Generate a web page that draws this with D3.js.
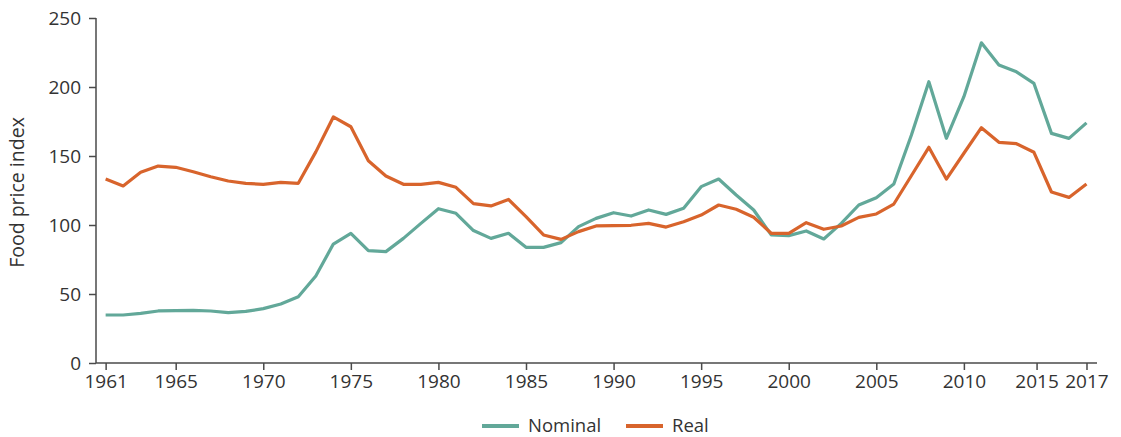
<!DOCTYPE html>
<html>
<head>
<meta charset="utf-8">
<script src="https://cdn.jsdelivr.net/npm/d3@7"></script>
<style>
  html, body { margin: 0; padding: 0; background: #fff; }
  svg { display: block; }
  text { font-family: "Open Sans", Lato, sans-serif; fill: #333; }
</style>
</head>
<body>
<svg id="chart" width="1121" height="437"></svg>
<script>
// Annual food price index, 1961-2017
const years = d3.range(1961, 2018);

const nominal = [
  34.8, 34.8, 36.0, 37.7, 37.9, 38.2, 37.7, 36.5, 37.4, 39.4,
  42.8, 48.0, 63.0, 86.2, 94.0, 81.4, 80.7, 90.3, 101.2, 111.8,
  108.5, 96.0, 90.3, 94.0, 83.8, 83.8, 87.2, 98.8, 104.8, 108.9,
  106.5, 110.9, 107.7, 112.1, 127.8, 133.3, 121.7, 110.9, 92.8, 92.3,
  95.7, 89.9, 101.2, 114.5, 119.8, 129.7, 165.0, 203.8, 162.8, 193.0,
  232.0, 216.0, 211.0, 202.6, 166.4, 162.8, 174.0
];

const real = [
  133.3, 128.3, 138.2, 142.7, 141.8, 138.6, 135.0, 131.9, 130.2, 129.5,
  130.9, 130.2, 153.0, 178.3, 171.2, 146.6, 135.5, 129.5, 129.5, 130.9,
  127.3, 115.5, 113.8, 118.5, 106.0, 92.8, 89.6, 95.2, 99.3, 99.5,
  99.8, 101.2, 98.5, 102.4, 107.2, 114.5, 111.4, 105.6, 94.0, 94.0,
  101.7, 96.9, 99.3, 105.5, 108.0, 115.2, 135.7, 156.3, 133.3, 152.0,
  170.5, 159.9, 158.9, 152.7, 123.9, 120.0, 129.7
];

const seriesNames = ["Nominal", "Real"];
const seriesColors = ["#62a899", "#d8642c"];

const yTicks = [0, 50, 100, 150, 200, 250];
const xTickLabels = ["1961", "1965", "1970", "1975", "1980", "1985", "1990",
                     "1995", "2000", "2005", "2010", "2015", "2017"];
const xTickAt = [1961, 1965, 1970, 1975, 1980, 1985, 1990,
                 1995, 2000, 2005, 2010, 2014.15, 2017];

const svg = d3.select("#chart");

const x = d3.scaleLinear().domain([1960.45, 2017.6]).range([96, 1097]);
const y = d3.scaleLinear().domain([0, 250]).range([363, 18]);

const axisColor = "#4a4a4a";
const fontStack = "'Open Sans', Lato, sans-serif";

// Y axis
const yAxis = svg.append("g")
  .attr("transform", `translate(${x.range()[0]},0)`)
  .call(d3.axisLeft(y).tickValues(yTicks).tickSize(7).tickPadding(8));

// X axis
const xAxis = svg.append("g")
  .attr("transform", `translate(0,${y(0)})`)
  .call(d3.axisBottom(x).tickValues(xTickAt).tickSize(7).tickPadding(5)
    .tickFormat((d, i) => xTickLabels[i]));

[yAxis, xAxis].forEach(g => {
  g.select(".domain").attr("stroke", axisColor).attr("stroke-width", 1.5);
  g.selectAll(".tick line").attr("stroke", axisColor).attr("stroke-width", 1.5);
  g.selectAll(".tick text")
    .style("font-family", fontStack)
    .style("font-size", "19px")
    .attr("fill", "#333");
});
// plain axis lines without outer tick ends
yAxis.select(".domain").attr("d", `M0,${y(250)}V${y(0)}`);
xAxis.select(".domain").attr("d", `M${x.range()[0]},0H${x.range()[1]}`);
yAxis.selectAll(".tick text").attr("dy", "0.35em");

// Y axis title
svg.append("text")
  .attr("transform", `translate(24,${(y(0) + y(250)) / 2 + 2}) rotate(-90)`)
  .attr("text-anchor", "middle")
  .style("font-family", fontStack)
  .style("font-size", "19.5px")
  .text("Food price index");

// Lines
const line = d3.line()
  .x(d => x(d[0]))
  .y(d => y(d[1]));

const data = [nominal, real];
data.forEach((vals, i) => {
  svg.append("path")
    .datum(years.map((yr, j) => [yr, vals[j]]))
    .attr("fill", "none")
    .attr("stroke", seriesColors[i])
    .attr("stroke-width", 3.2)
    .attr("stroke-linejoin", "round")
    .attr("stroke-linecap", "butt")
    .attr("d", line);
});

// Legend
const legend = svg.append("g").attr("transform", "translate(482,426)");
const legendOffsets = [0, 144];
seriesNames.forEach((name, i) => {
  const g = legend.append("g").attr("transform", `translate(${legendOffsets[i]},0)`);
  g.append("line")
    .attr("x1", 0).attr("x2", 37).attr("y1", 0).attr("y2", 0)
    .attr("stroke", seriesColors[i]).attr("stroke-width", 4);
  g.append("text")
    .attr("x", 46).attr("y", 0).attr("dy", "0.3em")
    .style("font-family", fontStack)
    .style("font-size", "18.5px")
    .text(name);
});
</script>
</body>
</html>
